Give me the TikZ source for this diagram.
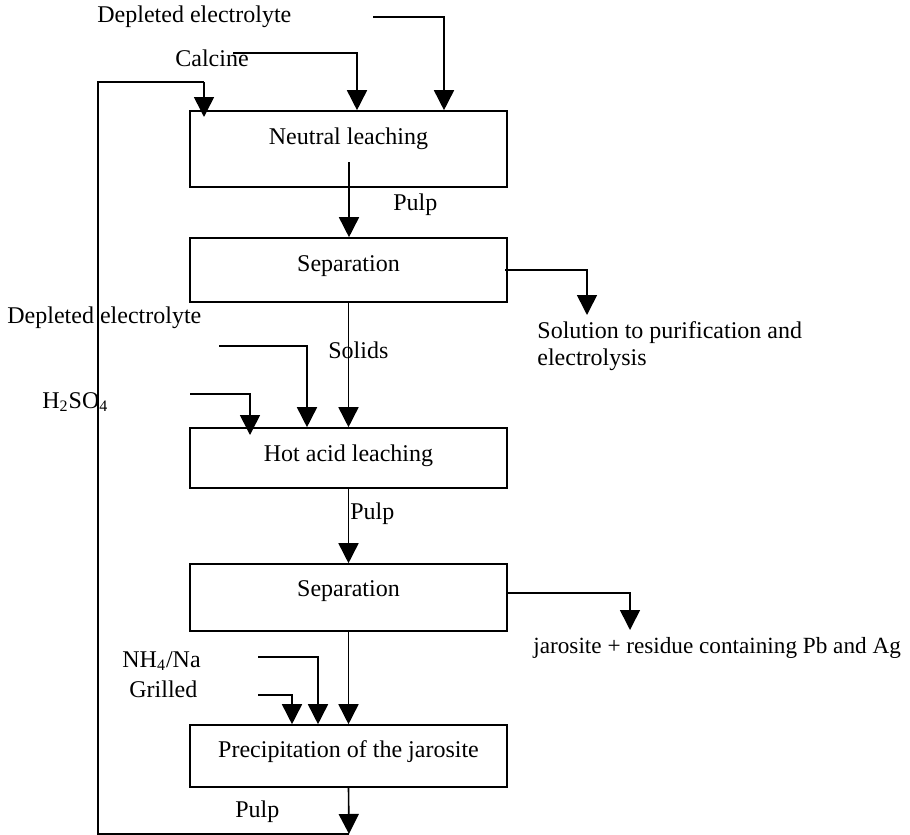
\documentclass[tikz,border=0pt]{standalone}
\usepackage{fontspec}
\setmainfont{Liberation Serif}
\usetikzlibrary{arrows.meta}
\tikzset{
  box/.style={draw, line width=0.8pt, minimum width=158.5pt, inner sep=0pt},
  flow/.style={line width=0.8pt, -{Triangle[length=10pt,width=10pt]}},
  plain/.style={line width=0.8pt},
  lbl/.style={inner sep=0pt, anchor=base west, font=\fontsize{12}{13.5}\selectfont},
  clbl/.style={inner sep=0pt, anchor=base, font=\fontsize{12}{13.5}\selectfont},
}
\begin{document}
\begin{tikzpicture}[x=0.5pt,y=-0.5pt]
\useasboundingbox (0,0) rectangle (910,835);
% boxes
\node[box, minimum height=38pt]   (b1) at (348.5,149) {};
\node[box, minimum height=32pt]   (b2) at (348.5,270) {};
\node[box, minimum height=30pt]   (b3) at (348.5,458) {};
\node[box, minimum height=33.5pt] (b4) at (348.5,597.5) {};
\node[box, minimum height=31pt]   (b5) at (348.5,756) {};
% box texts
\node[clbl] (t1) at (348.5,144) {Neutral leaching};
\node[clbl] (t2) at (348.5,271) {Separation};
\node[clbl] (t3) at (348.5,461) {Hot acid leaching};
\node[clbl] (t4) at (348.5,596) {Separation};
\node[clbl] (t5) at (348.5,757) {Precipitation of the jarosite};
% labels
\node[lbl] (l1) at (97,23) {Depleted electrolyte};
\node[lbl] (l2) at (175,66) {Calcine};
\node[lbl] (l3) at (393,210) {Pulp};
\node[lbl] (l4) at (7,323) {Depleted electrolyte};
\node[lbl] (l5) at (328,358) {Solids};
\node[lbl] (l6) at (537,338) {Solution to purification and};
\node[lbl] (l6b) at (537,365) {electrolysis};
\node[lbl] (l7) at (42,408) {H\textsubscript{2}SO\textsubscript{4}};
\node[lbl] (l8) at (350,519) {Pulp};
\node[lbl, font=\fontsize{11.6}{13}\selectfont] (l9) at (533,653) {jarosite + residue containing Pb and Ag};
\node[lbl] (l10) at (122,667) {NH\textsubscript{4}/Na};
\node[lbl] (l11) at (129,697) {Grilled};
\node[lbl] (l12) at (235,817) {Pulp};
% coordinates
\coordinate (c0) at (233,53);  \coordinate (c1) at (357,53);
\coordinate (d0) at (373,17);  \coordinate (d1) at (444,17);
\coordinate (p0) at (349,162);
\coordinate (s0) at (505,270); \coordinate (s1) at (587,270); \coordinate (s2) at (587,315);
\coordinate (e0) at (219,346); \coordinate (e1) at (307,346);
\coordinate (h0) at (190,394); \coordinate (h1) at (250,394); \coordinate (h2) at (250,435);
\coordinate (j0) at (507,593); \coordinate (j1) at (630,593); \coordinate (j2) at (630,630);
\coordinate (n0) at (258,657); \coordinate (n1) at (318,657);
\coordinate (g0) at (258,695); \coordinate (g1) at (292,695);
\coordinate (r1) at (349,834); \coordinate (r2) at (98,834);
\coordinate (r3) at (98,82);   \coordinate (r4) at (204,82); \coordinate (r5) at (204,117);
% connectors
\draw[flow] (c0) -- (c1) -- (c1 |- b1.north);
\draw[flow] (d0) -- (d1) -- (d1 |- b1.north);
\draw[flow] (p0) -- (p0 |- b2.north);
\draw[flow] (s0) -- (s1) -- (s2);
\draw[flow] (b2.south) -- (b3.north);
\draw[flow] (e0) -- (e1) -- (e1 |- b3.north);
\draw[flow] (h0) -- (h1) -- (h2);
\draw[flow] (b3.south) -- (b4.north);
\draw[flow] (j0) -- (j1) -- (j2);
\draw[flow] (b4.south) -- (b5.north);
\draw[flow] (n0) -- (n1) -- (n1 |- b5.north);
\draw[flow] (g0) -- (g1) -- (g1 |- b5.north);
\draw[flow] (b5.south) -- (r1);
\draw[plain] (r1) -- (r2) -- (r3) -- (r4);
\draw[flow] (r4) -- (r5);
\end{tikzpicture}
\end{document}
